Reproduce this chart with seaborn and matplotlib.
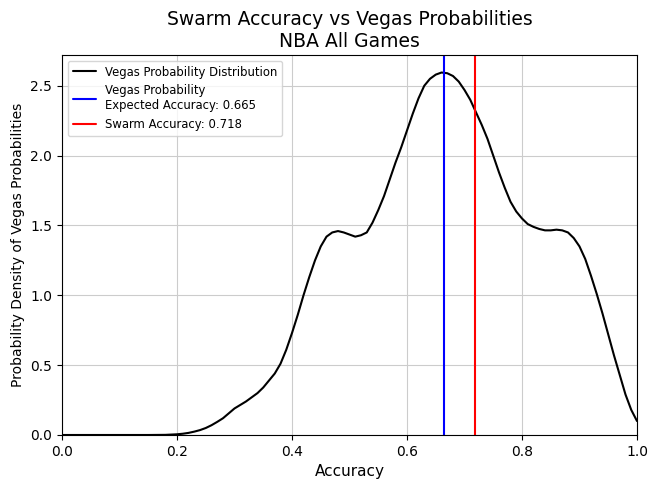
import matplotlib
matplotlib.use("Agg")
import matplotlib.pyplot as plt
import seaborn as sns
import pandas as pd

# density curve
accuracy = [0.00, 0.05, 0.10, 0.15, 0.18, 0.19,
            0.20, 0.21, 0.22, 0.23, 0.24, 0.25, 0.26, 0.27, 0.28, 0.29,
            0.30, 0.31, 0.32, 0.33, 0.34, 0.35, 0.36, 0.37, 0.38, 0.39,
            0.40, 0.41, 0.42, 0.43, 0.44, 0.45, 0.46, 0.47, 0.48, 0.49,
            0.50, 0.51, 0.52, 0.53, 0.54, 0.55, 0.56, 0.57, 0.58, 0.59,
            0.60, 0.61, 0.62, 0.63, 0.64, 0.65, 0.66, 0.67, 0.68, 0.69,
            0.70, 0.71, 0.72, 0.73, 0.74, 0.75, 0.76, 0.77, 0.78, 0.79,
            0.80, 0.81, 0.82, 0.83, 0.84, 0.85, 0.86, 0.87, 0.88, 0.89,
            0.90, 0.91, 0.92, 0.93, 0.94, 0.95, 0.96, 0.97, 0.98, 0.99,
            1.00]
density = [0.0, 0.0, 0.0, 0.0, 0.001, 0.003,
           0.005, 0.009, 0.015, 0.024, 0.035, 0.05, 0.07, 0.094, 0.12, 0.155,
           0.19, 0.215, 0.24, 0.27, 0.30, 0.34, 0.39, 0.44, 0.51, 0.61,
           0.73, 0.86, 1.00, 1.13, 1.25, 1.35, 1.42, 1.45, 1.46, 1.45,
           1.435, 1.42, 1.43, 1.45, 1.52, 1.61, 1.71, 1.83, 1.95, 2.06,
           2.18, 2.30, 2.41, 2.50, 2.55, 2.58, 2.595, 2.59, 2.57, 2.53,
           2.47, 2.40, 2.31, 2.22, 2.12, 2.00, 1.88, 1.77, 1.67, 1.60,
           1.55, 1.51, 1.49, 1.475, 1.465, 1.465, 1.47, 1.465, 1.45, 1.41,
           1.35, 1.26, 1.14, 1.01, 0.87, 0.72, 0.57, 0.43, 0.29, 0.18,
           0.10]

expected_accuracy = 0.665
swarm_accuracy = 0.718

sns.set_style("ticks")
plt.rcParams['font.family'] = ['DejaVu Sans']
plt.rcParams['text.color'] = 'black'
plt.rcParams['axes.labelcolor'] = 'black'

df = pd.DataFrame({'accuracy': accuracy, 'density': density})

fig, ax = plt.subplots(figsize=(6.48, 4.83), dpi=100)
fig.subplots_adjust(left=0.0957, right=0.983, top=0.886, bottom=0.0994)

sns.lineplot(data=df, x='accuracy', y='density', ax=ax, color='black',
             linewidth=1.5, label='Vegas Probability Distribution')
ax.axvline(expected_accuracy, color='blue', linewidth=1.5,
           label=f'Vegas Probability\nExpected Accuracy: {expected_accuracy}')
ax.axvline(swarm_accuracy, color='red', linewidth=1.5,
           label=f'Swarm Accuracy: {swarm_accuracy}')

ax.set_xlim(0, 1)
ax.set_ylim(0, 2.72)
ax.set_title('Swarm Accuracy vs Vegas Probabilities\nNBA All Games', fontsize=13.5)
ax.set_xlabel('Accuracy', fontsize=11)
ax.set_ylabel('Probability Density of Vegas Probabilities', fontsize=10)
ax.tick_params(labelsize=10, colors='black', length=3.5)
for s in ax.spines.values():
    s.set_color('black')
ax.grid(True, color='#cccccc', linewidth=0.8)
ax.legend(loc='upper left', fontsize=8.4, framealpha=0.8, edgecolor='#cccccc')

fig.savefig('out.png', dpi=100)
